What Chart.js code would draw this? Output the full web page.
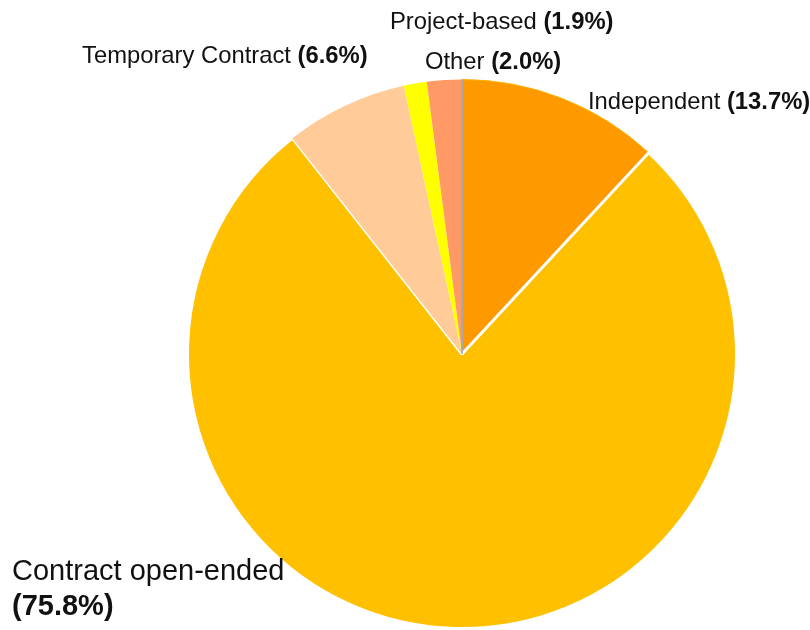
<!DOCTYPE html>
<html>
<head>
<meta charset="utf-8">
<script src="https://cdn.jsdelivr.net/npm/chart.js@4.4.1/dist/chart.umd.min.js"></script>
<style>
  html, body { margin: 0; padding: 0; background: #fff; }
  #wrap { width: 810px; height: 630px; }
</style>
</head>
<body>
<div id="wrap"><canvas id="pieChart" width="810" height="630"></canvas></div>
<script>
// Chart data
const categories = ['Independent', 'Contract open-ended', 'Temporary Contract', 'Project-based', 'Other'];
// slice sizes as drawn in the picture
const sliceShares = [11.9, 77.5, 7.2, 1.35, 2.05];
// percentages printed in the labels
const labelPercents = [13.7, 75.8, 6.6, 1.9, 2.0];
const sliceColors = ['#FF9900', '#FFC000', '#FFCC99', '#FFFF00', '#FF9966'];

// Label placement (left x, baseline y, font size) for each slice
const labelSpots = [
    { x: 588, y: 109, size: 23.8 },
    { x: 12, y: 580, size: 29, wrap: true },
    { x: 82, y: 63, size: 23.8 },
    { x: 390, y: 29, size: 23.8 },
    { x: 425, y: 69, size: 23.8 }
];

const FONT = '"Liberation Sans", Arial, Helvetica, sans-serif';

// Plugin to draw the thin seam at the top and the slice labels
const labelPlugin = {
    id: 'sliceLabels',
    afterDatasetsDraw(chart) {
        const ctx = chart.ctx;
        const first = chart.getDatasetMeta(0).data[0];
        ctx.save();
        ctx.strokeStyle = '#8FA9DC';
        ctx.lineWidth = 1.5;
        ctx.beginPath();
        ctx.moveTo(first.x, first.y);
        ctx.lineTo(first.x + Math.cos(first.startAngle) * first.outerRadius,
                   first.y + Math.sin(first.startAngle) * first.outerRadius);
        ctx.stroke();
        ctx.restore();
    },
    afterDraw(chart) {
        const ctx = chart.ctx;
        ctx.save();
        ctx.fillStyle = '#111';
        ctx.textBaseline = 'alphabetic';
        ctx.textAlign = 'left';
        categories.forEach((name, i) => {
            const spot = labelSpots[i];
            const pct = '(' + labelPercents[i].toFixed(1) + '%)';
            ctx.font = `${spot.size}px ${FONT}`;
            if (spot.wrap) {
                ctx.fillText(name, spot.x, spot.y);
                ctx.font = `bold ${spot.size}px ${FONT}`;
                ctx.fillText(pct, spot.x, spot.y + spot.size * 1.2);
            } else {
                const txt = name + ' ';
                ctx.fillText(txt, spot.x, spot.y);
                const w = ctx.measureText(txt).width;
                ctx.font = `bold ${spot.size}px ${FONT}`;
                ctx.fillText(pct, spot.x + w, spot.y);
            }
        });
        ctx.restore();
    }
};

const ctx = document.getElementById('pieChart').getContext('2d');
new Chart(ctx, {
    type: 'pie',
    data: {
        labels: categories,
        datasets: [{
            data: sliceShares,
            backgroundColor: sliceColors,
            borderColor: ['#FFB300', '#FFFFFF', '#FFFFFF', '#FFFFFF', '#FFFFFF'],
            borderWidth: [1, 3, 0, 0, 0]
        }]
    },
    options: {
        responsive: false,
        animation: false,
        layout: {
            padding: { left: 186, right: 72, top: 78, bottom: 0 }
        },
        plugins: {
            legend: { display: false },
            tooltip: { enabled: false }
        }
    },
    plugins: [labelPlugin]
});
</script>
</body>
</html>
